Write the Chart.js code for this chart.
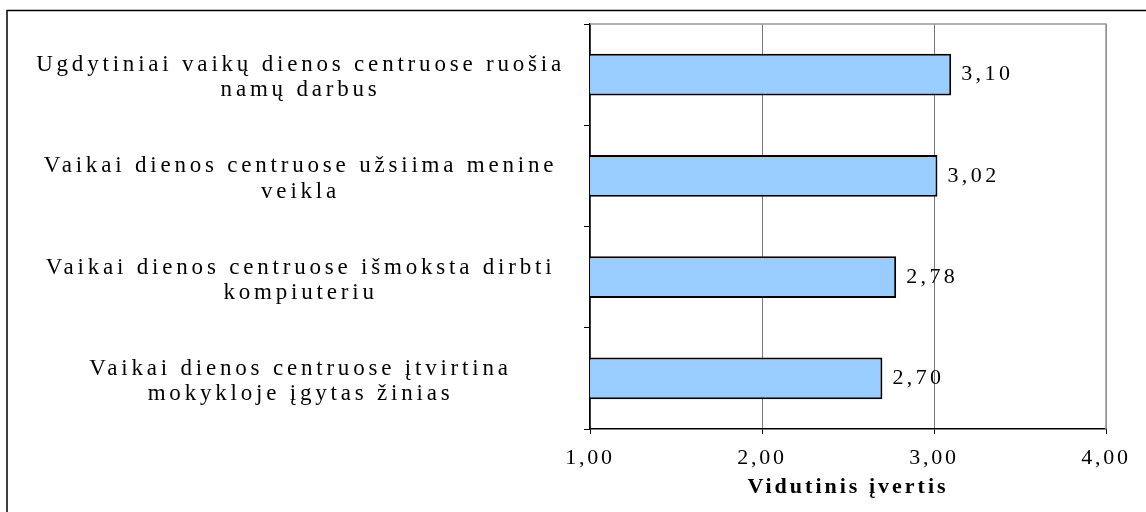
<!DOCTYPE html>
<html>
<head>
<meta charset="utf-8">
<script src="https://cdn.jsdelivr.net/npm/chart.js@4.4.1/dist/chart.umd.min.js"></script>
<style>
  html, body { margin: 0; padding: 0; background: #fff; }
  #wrap { width: 1146px; height: 512px; }
</style>
</head>
<body>
<div id="wrap"><canvas id="myChart"></canvas></div>
<script>
const categories = [
  ['Ugdytiniai vaikų dienos centruose ruošia', 'namų darbus'],
  ['Vaikai dienos centruose užsiima menine', 'veikla'],
  ['Vaikai dienos centruose išmoksta dirbti', 'kompiuteriu'],
  ['Vaikai dienos centruose įtvirtina', 'mokykloje įgytas žinias']
];
const values = [3.10, 3.02, 2.78, 2.70];
const xTicks = [1, 2, 3, 4];
const axisTitle = 'Vidutinis įvertis';

const fmt = v => v.toFixed(2).replace('.', ',');
const serif = '"Liberation Serif", "Times New Roman", serif';

// the original is a stretched Word chart, so text gets letter spacing
const SPACE = {
  x: { ticks: '2.8px', title: '3px' },
  y: { ticks: '3.8px', title: '0px' }
};
const setSpacing = (scale, v) => { scale.ctx.letterSpacing = v; };

const spacingPlugin = {
  id: 'spacing',
  beforeDraw(chart) {
    Object.keys(SPACE).forEach(id => {
      const s = chart.scales[id];
      if (!s || s._spaced) return;
      const dl = s.drawLabels.bind(s);
      const dt = s.drawTitle.bind(s);
      s.drawLabels = (a) => { chart.ctx.letterSpacing = SPACE[id].ticks; dl(a); chart.ctx.letterSpacing = '0px'; };
      s.drawTitle = () => { chart.ctx.letterSpacing = SPACE[id].title; dt(); chart.ctx.letterSpacing = '0px'; };
      s._spaced = true;
    });
  }
};

// outer frame + grey top/right plot border
const framePlugin = {
  id: 'frame',
  beforeDraw(chart) {
    const ctx = chart.ctx;
    ctx.save();
    ctx.strokeStyle = '#000';
    ctx.lineWidth = 1.5;
    ctx.strokeRect(7, 10.5, 2000, 2000);
    ctx.restore();
  },
  afterDraw(chart) {
    const {ctx, chartArea: a} = chart;
    ctx.save();
    ctx.strokeStyle = '#999';
    ctx.lineWidth = 1.5;
    ctx.beginPath();
    ctx.moveTo(a.left, a.top);
    ctx.lineTo(a.right, a.top);
    ctx.lineTo(a.right, a.bottom);
    ctx.stroke();
    ctx.restore();
  }
};

const valueLabels = {
  id: 'valueLabels',
  afterDatasetsDraw(chart) {
    const ctx = chart.ctx;
    const meta = chart.getDatasetMeta(0);
    ctx.save();
    ctx.letterSpacing = '3.4px';
    ctx.font = '22px ' + serif;
    ctx.fillStyle = '#000';
    ctx.textAlign = 'left';
    ctx.textBaseline = 'middle';
    meta.data.forEach((bar, i) => {
      ctx.fillText(fmt(values[i]), bar.x + 10, bar.y);
    });
    ctx.restore();
  }
};

const config = {
  type: 'bar',
  data: {
    labels: categories,
    datasets: [{
      data: values,
      backgroundColor: '#99CCFF',
      borderColor: '#000',
      borderWidth: 2,
      borderSkipped: false,
      categoryPercentage: 1,
      barPercentage: 0.41
    }]
  },
  options: {
    indexAxis: 'y',
    responsive: true,
    maintainAspectRatio: false,
    animation: false,
    layout: { padding: { top: 24, right: 40, left: 0, bottom: 0 } },
    plugins: { legend: { display: false }, tooltip: { enabled: false } },
    scales: {
      x: {
        min: 1,
        max: 4,
        afterBuildTicks(scale) { scale.ticks = xTicks.map(v => ({ value: v })); },
        beforeCalculateLabelRotation(scale) { setSpacing(scale, SPACE.x.ticks); },
        afterFit(scale) {
          scale.height = 83;
          scale.paddingLeft = 0;
          scale.paddingRight = 0;
          setSpacing(scale, '0px');
        },
        border: { color: '#000', width: 1.5 },
        grid: { color: '#777', lineWidth: 1, tickLength: 5, tickColor: '#000', tickWidth: 1 },
        ticks: {
          color: '#000',
          padding: 11,
          font: { family: serif, size: 22 },
          callback: v => fmt(v)
        },
        title: {
          display: true,
          text: axisTitle,
          color: '#000',
          font: { family: serif, size: 22, weight: 'bold' },
          padding: { top: 0, bottom: 11 }
        }
      },
      y: {
        beforeCalculateLabelRotation(scale) { setSpacing(scale, SPACE.y.ticks); },
        afterFit(scale) {
          scale.width = 590;
          scale.paddingTop = 0;
          scale.paddingBottom = 0;
          setSpacing(scale, '0px');
        },
        border: { color: '#000', width: 1.5 },
        grid: { drawOnChartArea: false, tickLength: 6, color: '#000', lineWidth: 1 },
        ticks: {
          color: '#000',
          padding: 19,
          labelOffset: 3,
          crossAlign: 'center',
          font: { family: serif, size: 23, lineHeight: 1.1 }
        }
      }
    }
  },
  plugins: [spacingPlugin, framePlugin, valueLabels]
};

var myChart = new Chart(document.getElementById('myChart'), config);
</script>
</body>
</html>
